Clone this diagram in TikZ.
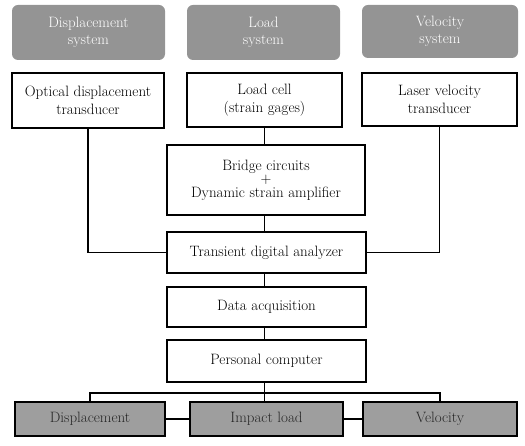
\documentclass[tikz,border=0pt]{standalone}
\begin{document}
\begin{tikzpicture}[x=1pt,y=-1pt,
  every node/.style={font=\rmfamily\fontsize{15}{17.5}\selectfont},
  sysbox/.style={fill=black!42, text=white, rounded corners=6pt, align=center, inner sep=0pt},
  wbox/.style={draw=black, line width=1.6pt, fill=white, align=center, inner sep=0pt},
  gbox/.style={draw=black, line width=1.6pt, fill=black!38, text=black!85, align=center, inner sep=0pt},
  conn/.style={line width=1.8pt}]
\useasboundingbox (0,0) rectangle (525,446);
% top system boxes
\node[sysbox, minimum width=153pt, minimum height=55pt] (ds) at (88.5,32.5) {Displacement\\system};
\node[sysbox, minimum width=153pt, minimum height=55pt] (ls) at (263.5,32.5) {Load\\system};
\node[sysbox, minimum width=156pt, minimum height=53pt] (vs) at (440,31.5) {Velocity\\system};
% sensors
\node[wbox, minimum width=152pt, minimum height=55pt] (od) at (88,100.5) {Optical displacement\\transducer};
\node[wbox, minimum width=155pt, minimum height=54pt] (lc) at (264.5,100) {Load cell\\(strain gages)};
\node[wbox, minimum width=155pt, minimum height=53pt] (lv) at (439.5,99.5) {Laser velocity\\transducer};
% chain
\node[wbox, minimum width=198pt, minimum height=70pt] (bc) at (266,180) {Bridge circuits\\[-4pt]+\\[-4pt]Dynamic strain amplifier};
\node[wbox, minimum width=199pt, minimum height=41pt] (td) at (266.5,252.5) {Transient digital analyzer};
\node[wbox, minimum width=199pt, minimum height=40pt] (da) at (266.5,307) {Data acquisition};
\node[wbox, minimum width=199pt, minimum height=42pt] (pc) at (266.5,361) {Personal computer};
% outputs
\node[gbox, minimum width=150pt, minimum height=34pt] (dp) at (90,419) {Displacement};
\node[gbox, minimum width=153pt, minimum height=34pt] (il) at (266.5,419) {Impact load};
\node[gbox, minimum width=154pt, minimum height=34pt] (ve) at (440,419) {Velocity};
\coordinate (bus) at (264.5,393);
% connectors
\draw[conn] (od.south) |- (td.west);
\draw[conn] (lv.south) |- (td.east);
\draw[conn] (lc.south) -- (lc.south |- bc.north);
\draw[conn] (td.north -| lc.south) -- (lc.south |- bc.south);
\draw[conn] (td.south -| lc.south) -- (lc.south |- da.north);
\draw[conn] (da.south -| lc.south) -- (lc.south |- pc.north);
\draw[conn] (pc.south -| lc.south) -- (bus);
\draw[conn] (dp.north) |- (bus) -| (ve.north);
\draw[conn] (bus) -- (bus |- il.north);
\draw[conn] (dp.east) -- (il.west);
\draw[conn] (il.east) -- (ve.west);
\end{tikzpicture}
\end{document}
